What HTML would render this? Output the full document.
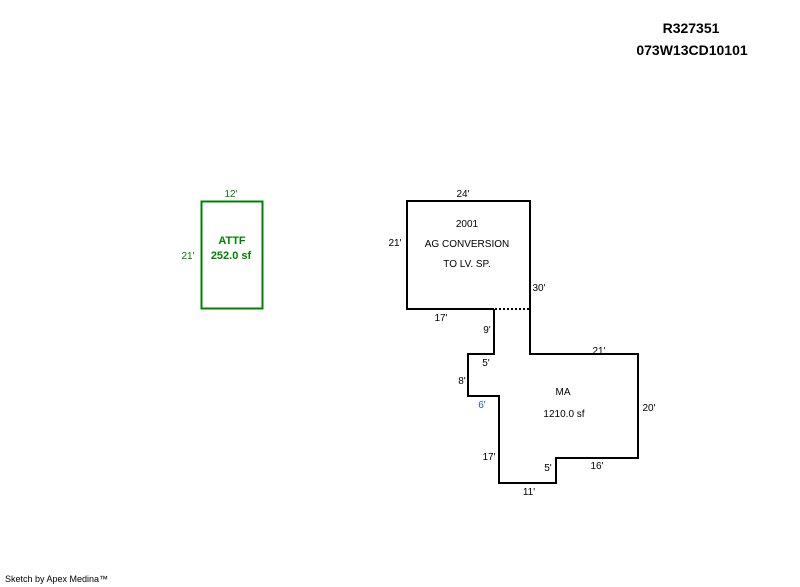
<!DOCTYPE html>
<html><head><meta charset="utf-8"><style>
html,body{margin:0;padding:0;background:#fff;width:800px;height:587px;overflow:hidden}
svg text{font-family:"Liberation Sans",Arial,sans-serif}
</style></head><body>
<svg width="800" height="587" xmlns="http://www.w3.org/2000/svg">
<text x="691" y="33" font-size="14" font-weight="bold" text-anchor="middle">R327351</text>
<text x="692" y="55" font-size="14" font-weight="bold" text-anchor="middle">073W13CD10101</text>

<rect x="201.5" y="201.5" width="61" height="107" fill="none" stroke="#008000" stroke-width="2"/>
<g fill="#008000" font-size="10">
<text x="231" y="197" text-anchor="middle">12'</text>
<text x="188" y="259" text-anchor="middle">21'</text>
</g>
<g fill="#008000" font-size="11" font-weight="bold" text-anchor="middle">
<text x="232" y="244">ATTF</text>
<text x="231" y="259">252.0 sf</text>
</g>

<polyline points="494,309 407,309 407,201 530,201 530,354 638,354 638,458 556,458 556,483 499,483 499,396 468,396 468,354 494,354 494,309" fill="none" stroke="#000" stroke-width="2"/>
<line x1="495" y1="309" x2="530" y2="309" stroke="#000" stroke-width="2" stroke-dasharray="2,2"/>

<g font-size="10" text-anchor="middle" fill="#000">
<text x="467" y="227">2001</text>
<text x="467" y="247">AG CONVERSION</text>
<text x="467" y="267">TO LV. SP.</text>
<text x="563" y="395">MA</text>
<text x="564" y="417">1210.0 sf</text>
<text x="463" y="197">24'</text>
<text x="395" y="246">21'</text>
<text x="539" y="291">30'</text>
<text x="441" y="321">17'</text>
<text x="487" y="333">9'</text>
<text x="599" y="354">21'</text>
<text x="486" y="366">5'</text>
<text x="462" y="384">8'</text>
<text x="482" y="408" fill="#1060c0">6'</text>
<text x="649" y="411">20'</text>
<text x="489" y="460">17'</text>
<text x="548" y="471">5'</text>
<text x="597" y="469">16'</text>
<text x="529" y="495">11'</text>
</g>
<text x="5" y="582" font-size="9">Sketch by Apex Medina™</text>
</svg>
</body></html>
